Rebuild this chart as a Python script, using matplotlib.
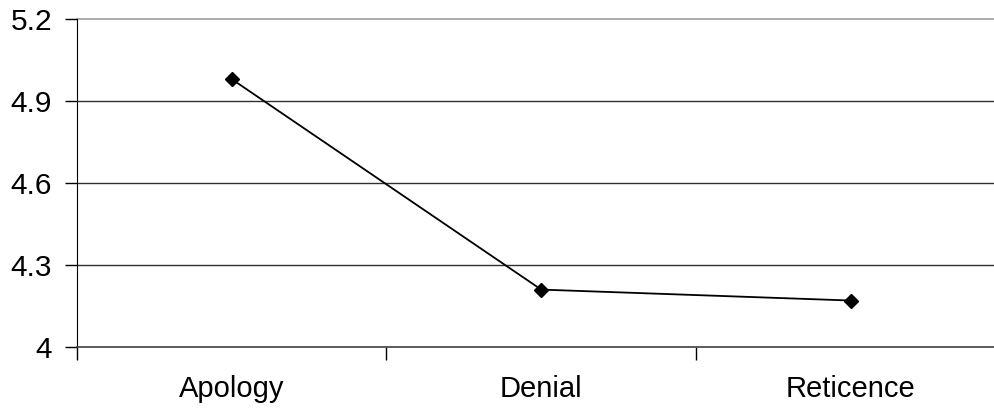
import matplotlib
matplotlib.use("Agg")
from matplotlib import pyplot as plt

# values
categories = ['Apology', 'Denial', 'Reticence']
values = [4.98, 4.21, 4.17]
y_ticks = [4, 4.3, 4.6, 4.9, 5.2]
y_labels = ['4', '4.3', '4.6', '4.9', '5.2']

plt.rcParams['font.family'] = ['Liberation Sans', 'DejaVu Sans']

fig = plt.figure(figsize=(9.95, 4.13), dpi=100)
ax = fig.add_axes([77/995, 1 - 347/413, (1005.5 - 77)/995, (347 - 19)/413])

x = [i + 0.5 for i in range(len(categories))]
ax.plot(x, values, color='black', lw=1.3, marker='D', markersize=7, zorder=3)

ax.set_xlim(0, len(categories))
ax.set_ylim(4, 5.2)
ax.set_yticks(y_ticks)
ax.set_yticklabels(y_labels, fontsize=21.5)

# category labels centred, tick marks between categories
ax.set_xticks(range(len(categories) + 1))
ax.set_xticklabels([])
ax.set_xticks(x, minor=True)
ax.set_xticklabels(categories, minor=True, fontsize=21)
ax.tick_params(axis='x', which='minor', length=0, pad=20)
ax.tick_params(axis='x', which='major', length=9, width=1, color='black')
ax.tick_params(axis='y', length=9, width=1, pad=9)

for yv in y_ticks[1:-1]:
    ax.axhline(yv, color='#303030', lw=1, zorder=1)
ax.axhline(5.2, color='#a0a0a0', lw=1.2, zorder=1, clip_on=False)

ax.spines['top'].set_visible(False)
ax.spines['right'].set_visible(False)
ax.spines['left'].set_color('black')
ax.spines['bottom'].set_color('#404040')
ax.spines['bottom'].set_linewidth(1.2)

fig.savefig('out.png', dpi=100)
